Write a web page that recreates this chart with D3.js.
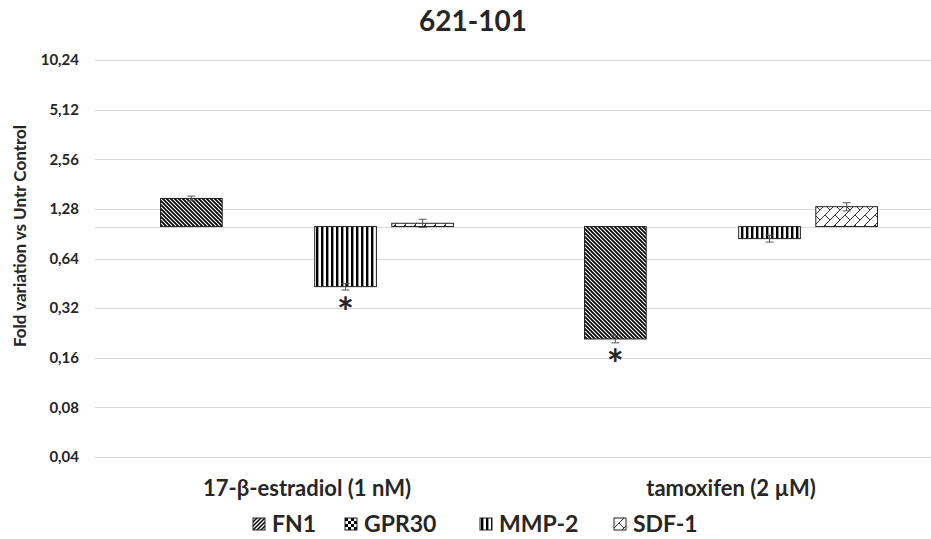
<!DOCTYPE html>
<html>
<head>
<meta charset="utf-8">
<script src="https://cdn.jsdelivr.net/npm/d3@7"></script>
<style>
  body { margin: 0; background: #fff; }
  text { font-family: Lato, "Open Sans", sans-serif; font-weight: bold; fill: #262626; }
</style>
</head>
<body>
<div id="chart"></div>
<script>
// data
const categories = ["17-β-estradiol (1 nM)", "tamoxifen (2 µM)"];
const series = ["FN1", "GPR30", "MMP-2", "SDF-1"];
const fn1 = [1.48, 0.208];
const gpr30 = [null, null];
const mmp2 = [0.432, 0.845];
const sdf1 = [1.047, 1.32];
const fn1Err = [0.05, 0.011];
const gpr30Err = [null, null];
const mmp2Err = [0.02, 0.04];
const sdf1Err = [0.06, 0.075];
const yTicks = [0.04, 0.08, 0.16, 0.32, 0.64, 1.28, 2.56, 5.12, 10.24];
const stars = [["17-β-estradiol (1 nM)", "MMP-2"], ["tamoxifen (2 µM)", "FN1"]];

const width = 931, height = 539;
const margin = {top: 60, right: -12, bottom: 82, left: 95};

const svg = d3.select("#chart").append("svg")
  .attr("width", width)
  .attr("height", height);

// patterns
const defs = svg.append("defs");
let p = defs.append("pattern").attr("id", "pFN1").attr("patternUnits", "userSpaceOnUse")
  .attr("width", 4).attr("height", 4);
p.append("rect").attr("width", 4).attr("height", 4).attr("fill", "#fff");
p.append("path").attr("d", "M-1,-1 L5,5 M-1,3 L1,5 M3,-1 L5,1").attr("stroke", "#000").attr("stroke-width", 1.7);

// legend swatch for FN1 is drawn the other way round in the original
p = defs.append("pattern").attr("id", "pFN1leg").attr("patternUnits", "userSpaceOnUse")
  .attr("width", 4).attr("height", 4);
p.append("rect").attr("width", 4).attr("height", 4).attr("fill", "#fff");
p.append("path").attr("d", "M-1,5 L5,-1 M-1,1 L1,-1 M3,5 L5,3").attr("stroke", "#000").attr("stroke-width", 1.5);

p = defs.append("pattern").attr("id", "pGPR30").attr("patternUnits", "userSpaceOnUse")
  .attr("width", 6).attr("height", 6);
p.append("rect").attr("width", 6).attr("height", 6).attr("fill", "#fff");
p.append("rect").attr("width", 3).attr("height", 3).attr("fill", "#000");
p.append("rect").attr("x", 3).attr("y", 3).attr("width", 3).attr("height", 3).attr("fill", "#000");

p = defs.append("pattern").attr("id", "pMMP-2").attr("patternUnits", "userSpaceOnUse")
  .attr("width", 5).attr("height", 5);
p.append("rect").attr("width", 5).attr("height", 5).attr("fill", "#fff");
p.append("rect").attr("x", 1).attr("width", 2.4).attr("height", 5).attr("fill", "#000");

p = defs.append("pattern").attr("id", "pSDF-1").attr("patternUnits", "userSpaceOnUse")
  .attr("width", 10).attr("height", 10);
p.append("rect").attr("width", 10).attr("height", 10).attr("fill", "#fff");
p.append("path").attr("d", "M0,10 L10,0 M5,5 L10,10 M0,5 L-5,0")
  .attr("stroke", "#333").attr("stroke-width", 1);

const fills = {"FN1": "url(#pFN1)", "GPR30": "url(#pGPR30)", "MMP-2": "url(#pMMP-2)", "SDF-1": "url(#pSDF-1)"};
const legendFills = Object.assign({}, fills, {"FN1": "url(#pFN1leg)"});

// scales
const x0 = d3.scaleBand().domain(categories).range([margin.left, width - margin.right]);
const x1 = d3.scaleBand().domain(series).range([0, x0.bandwidth()])
  .paddingInner(0.2).paddingOuter(0.85);
const y = d3.scaleLog().base(2).domain([0.04, 10.24]).range([height - margin.bottom, margin.top]);

// grid
svg.append("g").selectAll("line").data(yTicks.concat([1])).join("line")
  .attr("x1", margin.left).attr("x2", width)
  .attr("y1", d => Math.round(y(d)) + 0.5).attr("y2", d => Math.round(y(d)) + 0.5)
  .attr("stroke", "#d9d9d9").attr("stroke-width", 1);

// y axis labels
const yAxis = d3.axisLeft(y).tickValues(yTicks).tickSize(0).tickPadding(16)
  .tickFormat(d => d3.format(".2f")(d).replace(".", ","));
svg.append("g").attr("transform", `translate(${margin.left},0)`).call(yAxis)
  .call(g => g.select(".domain").remove())
  .selectAll("text").style("font-size", "15px").style("font-family", "Lato, sans-serif").attr("fill", "#262626");

// bars
const rows = [];
const vals = {"FN1": fn1, "GPR30": gpr30, "MMP-2": mmp2, "SDF-1": sdf1};
const errs = {"FN1": fn1Err, "GPR30": gpr30Err, "MMP-2": mmp2Err, "SDF-1": sdf1Err};
categories.forEach((c, i) => series.forEach(s => {
  if (vals[s][i] != null) rows.push({cat: c, key: s, value: vals[s][i], err: errs[s][i]});
}));

svg.append("g").selectAll("rect").data(rows).join("rect")
  .attr("x", d => x0(d.cat) + x1(d.key))
  .attr("width", x1.bandwidth())
  .attr("y", d => Math.min(y(d.value), y(1)))
  .attr("height", d => Math.abs(y(d.value) - y(1)))
  .attr("fill", d => fills[d.key])
  .attr("stroke", "#222").attr("stroke-width", 1);

// error bars
const eb = svg.append("g").attr("stroke", "#555").attr("stroke-width", 1);
rows.forEach(d => {
  const cx = x0(d.cat) + x1(d.key) + x1.bandwidth() / 2;
  const up = d.value >= 1;
  const outer = up ? d.value + d.err : d.value - d.err;
  const inner = up ? d.value - d.err : d.value + d.err;
  eb.append("line").attr("x1", cx).attr("x2", cx).attr("y1", y(inner)).attr("y2", y(outer));
  eb.append("line").attr("x1", cx - 4).attr("x2", cx + 4).attr("y1", y(outer)).attr("y2", y(outer));
  eb.append("line").attr("x1", cx - 4).attr("x2", cx + 4).attr("y1", y(inner)).attr("y2", y(inner));
});

// significance stars
svg.append("g").selectAll("text").data(stars).join("text")
  .attr("x", d => x0(d[0]) + x1(d[1]) + x1.bandwidth() / 2)
  .attr("y", d => y(vals[d[1]][categories.indexOf(d[0])]) + 40)
  .attr("text-anchor", "middle")
  .style("font-size", "40px").attr("fill", "#000")
  .text("*");

// x labels
svg.append("g").selectAll("text").data(categories).join("text")
  .attr("x", d => x0(d) + x0.bandwidth() / 2)
  .attr("y", 496)
  .attr("text-anchor", "middle")
  .style("font-size", "22px")
  .text(d => d);

// title
svg.append("text").attr("x", 473).attr("y", 31).attr("text-anchor", "middle")
  .style("font-size", "28px").attr("fill", "#111").text("621-101");

// y label
svg.append("text")
  .attr("transform", "rotate(-90)")
  .attr("x", -236).attr("y", 26)
  .attr("text-anchor", "middle")
  .style("font-size", "17px").attr("fill", "#111")
  .text("Fold variation vs Untr Control");

// legend
const legendX = [253, 345, 480, 614];
const lg = svg.append("g").selectAll("g").data(series).join("g")
  .attr("transform", (d, i) => `translate(${legendX[i]},518)`);
lg.append("rect").attr("width", 12).attr("height", 12)
  .attr("fill", d => legendFills[d]).attr("stroke", "#222").attr("stroke-width", 1);
lg.append("text").attr("x", 19).attr("y", 14)
  .style("font-size", "23px").attr("fill", "#111").text(d => d);
</script>
</body>
</html>
